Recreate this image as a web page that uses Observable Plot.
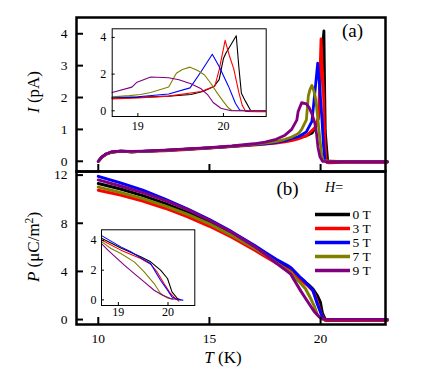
<!DOCTYPE html>
<html><head><meta charset="utf-8">
<script src="https://cdn.jsdelivr.net/npm/d3@7"></script>
<script src="https://cdn.jsdelivr.net/npm/@observablehq/plot@0.6"></script>
<style>
body{margin:0;background:#fff;}
#chart{position:relative;width:422px;height:377px;overflow:hidden;background:#fff;}
#chart svg{position:absolute;left:0;top:0;background:transparent;overflow:visible;}
#chart svg, #chart text, #chart tspan{font-family:"Liberation Serif","Times New Roman",serif !important;}
</style></head><body><div id="chart"></div>
<script>
const fields = ["0 T","3 T","5 T","7 T","9 T"];
const fieldColors = ["#000000","#ff0000","#0000ff","#808000","#800080"];
const xTicks = [10,15,20];
const iTicks = [0,1,2,3,4];
const pTicks = [0,4,8,12];
const insetXTicks = [19,20];
const insetITicks = [0,2,4];
const insetPTicks = [0,2,4];

// pyroelectric current I (pA) vs T (K)
const current0T = [[10,0],[10.15,0.13],[10.35,0.23],[10.6,0.29],[11,0.32],[11.5,0.3],[12,0.31],[13,0.34],[14,0.38],[15,0.42],[16,0.47],[17,0.53],[17.5,0.56],[18,0.6],[18.4,0.65],[18.7,0.7],[19,0.73],[19.36,0.8],[19.62,0.89],[19.76,1.05],[19.89,1.33],[19.95,1.7],[20,2.85],[20.03,3.15],[20.15,4.09],[20.18,2.4],[20.21,0.96],[20.26,0.5],[20.32,0],[21,-0.02],[23,-0.02]];
const current3T = [[10,0],[10.15,0.12],[10.35,0.22],[10.6,0.28],[11,0.31],[11.5,0.3],[12,0.31],[13,0.33],[14,0.37],[15,0.41],[16,0.46],[17,0.51],[17.5,0.54],[18,0.57],[18.4,0.61],[18.7,0.65],[19,0.7],[19.36,0.8],[19.74,1.05],[19.9,1.35],[19.95,2.23],[20.02,3.84],[20.07,3.0],[20.12,2.3],[20.18,1.0],[20.22,0.3],[20.26,-0.03],[20.4,-0.05],[21,-0.03],[23,-0.03]];
const current5T = [[10,0],[10.15,0.12],[10.35,0.22],[10.6,0.29],[11,0.32],[11.5,0.3],[12,0.31],[13,0.34],[14,0.38],[15,0.42],[16,0.47],[17,0.52],[17.5,0.55],[18,0.59],[18.4,0.65],[18.7,0.72],[19,0.77],[19.36,0.92],[19.61,1.25],[19.74,2.14],[19.87,3.08],[19.95,2.42],[20.06,1.33],[20.14,0.41],[20.19,0.04],[20.3,-0.02],[23,-0.02]];
const current7T = [[10,0],[10.15,0.12],[10.35,0.22],[10.6,0.29],[11,0.32],[11.5,0.3],[12,0.31],[13,0.34],[14,0.38],[15,0.42],[16,0.47],[17,0.53],[17.5,0.57],[18,0.62],[18.4,0.69],[18.7,0.76],[18.9,0.83],[19.03,0.89],[19.15,1.0],[19.36,1.3],[19.45,2.05],[19.52,2.25],[19.61,2.38],[19.7,2.2],[19.78,1.95],[19.86,1.45],[19.93,0.95],[20,0.5],[20.06,0.15],[20.1,0.02],[21,-0.01],[23,-0.01]];
const current9T = [[10,0],[10.15,0.13],[10.35,0.23],[10.6,0.3],[11,0.32],[11.5,0.31],[12,0.32],[13,0.35],[14,0.39],[15,0.43],[16,0.48],[17,0.55],[17.5,0.6],[18,0.69],[18.4,0.82],[18.7,1.0],[18.93,1.29],[18.99,1.56],[19.15,1.84],[19.36,1.8],[19.48,1.69],[19.62,1.47],[19.74,1.2],[19.82,0.85],[19.88,0.45],[19.97,0.14],[20.09,0],[21,-0.01],[23,-0.01]];

// polarization P (uC/m^2) vs T (K)
const polar0T = [[10,11.3],[11,10.85],[12,10.3],[13,9.65],[14,8.9],[15,8.05],[16,7.1],[17,6.0],[17.5,5.45],[18,4.85],[18.5,4.3],[18.67,4.13],[19.05,3.5],[19.45,2.9],[19.65,2.56],[19.85,2.0],[19.99,1.44],[20.08,0.54],[20.19,0.09],[20.25,0],[23,-0.02]];
const polar3T = [[10,10.75],[11,10.35],[12,9.85],[13,9.25],[14,8.55],[15,7.75],[16,6.85],[17,5.8],[17.5,5.25],[18,4.7],[18.5,4.2],[18.67,4.02],[19.05,3.35],[19.45,2.78],[19.65,2.4],[19.78,1.88],[19.92,1.1],[20.05,0.43],[20.15,0.09],[20.22,-0.08],[23,-0.08]];
const polar5T = [[10,11.9],[11,11.35],[12,10.75],[13,10.0],[14,9.2],[15,8.3],[16,7.3],[17,6.2],[17.5,5.6],[18,5.0],[18.5,4.5],[18.67,4.31],[19.05,3.57],[19.25,3.24],[19.45,2.83],[19.65,2.45],[19.75,1.88],[19.85,1.32],[19.99,0.65],[20.08,0.2],[20.19,0.02],[20.3,-0.02],[23,-0.02]];
const polar7T = [[10,11.0],[11,10.55],[12,10.05],[13,9.45],[14,8.75],[15,7.95],[16,7.0],[17,5.95],[17.5,5.4],[18,4.75],[18.5,4.1],[18.67,3.91],[18.85,3.46],[19.05,3.12],[19.32,2.56],[19.52,1.88],[19.72,1.1],[19.85,0.43],[19.99,0.13],[20.1,0.03],[23,-0.02]];
const polar9T = [[10,11.6],[11,11.1],[12,10.55],[13,9.9],[14,9.15],[15,8.25],[16,7.25],[17,6.1],[17.5,5.45],[18,4.7],[18.5,4.0],[18.67,3.75],[18.79,3.35],[18.92,2.95],[19.12,2.34],[19.32,1.77],[19.52,1.21],[19.72,0.65],[19.89,0.31],[20.05,0.09],[20.2,0.02],[23,0]];

const toRows = (series) => fields.flatMap((f, i) => series[i].map(([T, v]) => ({field: f, T, v})));
const currentRows = toRows([current0T, current3T, current5T, current7T, current9T]);
const polarRows = toRows([polar0T, polar3T, polar5T, polar7T, polar9T]);
const insetFilter = r => r.T >= 18.4 && r.T <= 21;

const chart = document.getElementById("chart");
const colorScale = {domain: fields, range: fieldColors};

function layer(opts, fontSize = "13.5px") {
  const svg = Plot.plot({width: 422, height: 377, color: colorScale,
    style: {background: "transparent", fontSize, color: "black", overflow: "visible"},
    ...opts});
  chart.append(svg);
  return svg;
}
function addText(svg, x, y, parts, {size = 17, rotate = 0, anchor = "middle", baseline = null} = {}) {
  const t = d3.select(svg).append("text")
    .attr("transform", `translate(${x},${y}) rotate(${rotate})`)
    .attr("text-anchor", anchor)
    .attr("font-size", size).attr("fill", "black");
  if (baseline) t.attr("dominant-baseline", baseline);
  parts.forEach(p => {
    const s = t.append("tspan").text(p.t);
    if (p.i) s.attr("font-style", "italic");
    if (p.sup) s.attr("baseline-shift", "super").attr("font-size", size * 0.68);
  });
}

// Panel (a)
const svgA = layer({
  marginLeft: 76, marginRight: 37, marginTop: 17, marginBottom: 206,
  x: {domain: [9.02, 22.92]}, y: {domain: [-0.32, 4.51]},
  marks: [
    Plot.line(currentRows, {x: "T", y: "v", z: "field", stroke: "field", strokeWidth: 2.8, strokeLinejoin: "round"}),
    Plot.axisY(iTicks, {anchor: "left", tickSize: -7, tickPadding: 16, strokeWidth: 2, label: null}),
    Plot.axisX(xTicks, {anchor: "bottom", tickSize: -7, strokeWidth: 2, tickFormat: () => "", label: null}),
    Plot.frame({stroke: "black", strokeWidth: 2.5})
  ]
});
addText(svgA, 38.5, 92, [{t: "I", i: true}, {t: " (pA)"}], {rotate: -90});
addText(svgA, 352.5, 30, [{t: "(a)"}], {size: 19, baseline: "central"});

// Panel (b)
const svgB = layer({
  marginLeft: 76, marginRight: 37, marginTop: 171, marginBottom: 53,
  x: {domain: [9.02, 22.92]}, y: {domain: [-0.41, 12.3]},
  marks: [
    Plot.line(polarRows, {x: "T", y: "v", z: "field", stroke: "field", strokeWidth: 3, strokeLinejoin: "round"}),
    Plot.axisY(pTicks, {anchor: "left", tickSize: -7, tickPadding: 16, strokeWidth: 2, label: null}),
    Plot.axisX(xTicks, {anchor: "bottom", tickSize: -7, tickPadding: 16, strokeWidth: 2, label: null}),
    Plot.frame({stroke: "black", strokeWidth: 2.5})
  ]
});
addText(svgB, 39, 247, [{t: "P", i: true}, {t: " (μC/m"}, {t: "2", sup: true}, {t: ")"}], {rotate: -90});
addText(svgB, 223, 363, [{t: "T", i: true}, {t: " (K)"}]);
addText(svgB, 287.5, 187.5, [{t: "(b)"}], {size: 19, baseline: "central"});

// Inset (a)
layer({
  marginLeft: 111.7, marginRight: 156.3, marginTop: 28.3, marginBottom: 261,
  x: {domain: [18.7, 20.5]}, y: {domain: [-0.31, 4.47]},
  marks: [
    Plot.frame({fill: "white"}),
    Plot.line(currentRows.filter(insetFilter), {x: "T", y: "v", z: "field", stroke: "field", strokeWidth: 1.1, clip: true}),
    Plot.axisY(insetITicks, {anchor: "left", tickSize: -3, tickPadding: 9, label: null}),
    Plot.axisX(insetXTicks, {anchor: "bottom", tickSize: -3, tickPadding: 8, label: null}),
    Plot.frame({stroke: "black", strokeWidth: 1})
  ]
}, "12px");

// Inset (b)
layer({
  marginLeft: 101, marginRight: 227.7, marginTop: 229.3, marginBottom: 72,
  x: {domain: [18.66, 20.54]}, y: {domain: [-0.38, 4.72]},
  marks: [
    Plot.frame({fill: "white"}),
    Plot.line(polarRows.filter(insetFilter), {x: "T", y: "v", z: "field", stroke: "field", strokeWidth: 1.1, clip: true}),
    Plot.axisY(insetPTicks, {anchor: "left", tickSize: -3, tickPadding: 8, label: null}),
    Plot.axisX(insetXTicks, {anchor: "bottom", tickSize: -3, tickPadding: 5, label: null}),
    Plot.frame({stroke: "black", strokeWidth: 1})
  ]
}, "12px");

// Legend
const svgL = layer({
  marginLeft: 315, marginRight: 72, marginTop: 205.7, marginBottom: 99.7,
  x: {domain: [0, 1], axis: null}, y: {type: "point", domain: fields, axis: null},
  marks: [
    Plot.ruleY(fields, {y: d => d, stroke: d => d, strokeWidth: 3.5}),
    Plot.text(fields, {y: d => d, text: d => d, frameAnchor: "right", dx: 2, textAnchor: "start", fill: "black", fontSize: 13.5})
  ]
});
addText(svgL, 325, 192, [{t: "H", i: true}, {t: "="}], {size: 14, anchor: "start"});
</script></body></html>
